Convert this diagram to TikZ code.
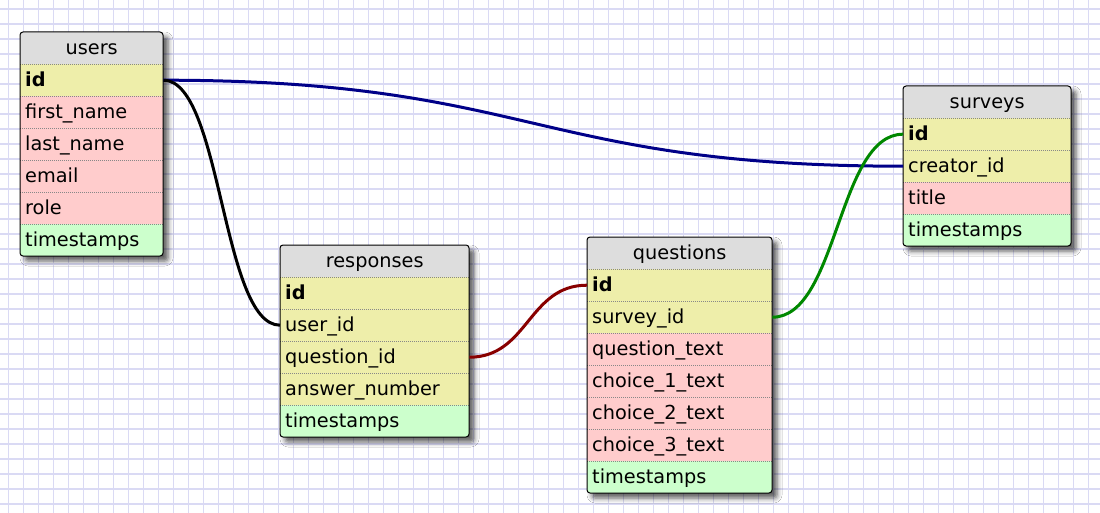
\documentclass[tikz,border=0pt]{standalone}
\usepackage{fontspec}
\setmainfont{DejaVu Sans}
\usetikzlibrary{calc,shadows.blur}
\definecolor{gridc}{RGB}{218,218,244}
\definecolor{hdrc}{HTML}{DDDDDD}
\definecolor{keyc}{HTML}{EEEEAA}
\definecolor{attc}{HTML}{FFCCCC}
\definecolor{tsc}{HTML}{CCFFCC}
\definecolor{sepc}{HTML}{888888}
\definecolor{navyc}{HTML}{000088}
\definecolor{dredc}{HTML}{880000}
\definecolor{dgreenc}{HTML}{008800}
\newcommand\erfont{\fontsize{19.3pt}{23pt}\selectfont}
\newcommand\erlink[3]{\draw[link,#1] (#2) let \p1=(#2), \p2=(#3) in
  .. controls ({0.5*\x1+0.5*\x2},\y1) and ({0.5*\x1+0.5*\x2},\y2) .. (#3);}
\tikzset{
  gridline/.style={draw=gridc, line width=1.7pt},
  cell/.style={anchor=north west, inner xsep=5pt, inner ysep=0pt,
    minimum height=32pt, text height=15.5pt, text depth=3.5pt,
    font=\erfont, align=left},
  hdr/.style={cell, fill=hdrc, align=center},
  keyrow/.style={cell, fill=keyc},
  attrow/.style={cell, fill=attc},
  tsrow/.style={cell, fill=tsc},
  sep/.style={draw=sepc, line width=0.8pt, dash pattern=on 1pt off 1pt},
  tablebg/.style={fill=white, rounded corners=3pt,
    blur shadow={shadow xshift=5pt, shadow yshift=-5pt, shadow blur radius=5pt, shadow opacity=65}},
  tableborder/.style={draw=black, line width=1pt, rounded corners=3pt},
  link/.style={line width=3pt},
  wusers/.style={text width=133pt},
  wresp/.style={text width=179pt},
  wquest/.style={text width=175pt},
  wsurv/.style={text width=158pt},
}
\begin{document}
\begin{tikzpicture}[x=1pt,y=-1pt]
\useasboundingbox (0,0) rectangle (1100,513);
\fill[white] (0,0) rectangle (1100,513);
\foreach \i in {0,...,72} \draw[gridline] ({8.5+15*\i},0) -- ({8.5+15*\i},513);
\foreach \i in {0,...,33} \draw[gridline] (0,{9+15*\i}) -- (1100,{9+15*\i});

% ---------- users ----------
\fill[tablebg] (20,32) rectangle (163,256);
\begin{scope}
\clip[rounded corners=3pt] (20,32) rectangle (163,256);
\node[hdr,wusers] (users-h) at (20,32) {users};
\node[keyrow,wusers] (users-id) at (20,64) {\bfseries id};
\node[attrow,wusers] (users-fn) at (20,96) {first\_name};
\node[attrow,wusers] (users-ln) at (20,128) {last\_name};
\node[attrow,wusers] (users-em) at (20,160) {email};
\node[attrow,wusers] (users-ro) at (20,192) {role};
\node[tsrow,wusers] (users-ts) at (20,224) {timestamps};
\foreach \k in {1,...,6} \draw[sep] (20,{32+32*\k}) -- ++(143,0);
\end{scope}
\draw[tableborder] (20,32) rectangle (163,256);

% ---------- responses ----------
\fill[tablebg] (280,245) rectangle (469,437);
\begin{scope}
\clip[rounded corners=3pt] (280,245) rectangle (469,437);
\node[hdr,wresp] (resp-h) at (280,245) {responses};
\node[keyrow,wresp] (resp-id) at (280,277) {\bfseries id};
\node[keyrow,wresp] (resp-uid) at (280,309) {user\_id};
\node[keyrow,wresp] (resp-qid) at (280,341) {question\_id};
\node[keyrow,wresp] (resp-an) at (280,373) {answer\_number};
\node[tsrow,wresp] (resp-ts) at (280,405) {timestamps};
\foreach \k in {1,...,5} \draw[sep] (280,{245+32*\k}) -- ++(189,0);
\end{scope}
\draw[tableborder] (280,245) rectangle (469,437);

% ---------- questions ----------
\fill[tablebg] (587,237) rectangle (772,493);
\begin{scope}
\clip[rounded corners=3pt] (587,237) rectangle (772,493);
\node[hdr,wquest] (q-h) at (587,237) {questions};
\node[keyrow,wquest] (q-id) at (587,269) {\bfseries id};
\node[keyrow,wquest] (q-sid) at (587,301) {survey\_id};
\node[attrow,wquest] (q-qt) at (587,333) {question\_text};
\node[attrow,wquest] (q-c1) at (587,365) {choice\_1\_text};
\node[attrow,wquest] (q-c2) at (587,397) {choice\_2\_text};
\node[attrow,wquest] (q-c3) at (587,429) {choice\_3\_text};
\node[tsrow,wquest] (q-ts) at (587,461) {timestamps};
\foreach \k in {1,...,7} \draw[sep] (587,{237+32*\k}) -- ++(185,0);
\end{scope}
\draw[tableborder] (587,237) rectangle (772,493);

% ---------- surveys ----------
\fill[tablebg] (903,86) rectangle (1071,246);
\begin{scope}
\clip[rounded corners=3pt] (903,86) rectangle (1071,246);
\node[hdr,wsurv] (s-h) at (903,86) {surveys};
\node[keyrow,wsurv] (s-id) at (903,118) {\bfseries id};
\node[keyrow,wsurv] (s-cid) at (903,150) {creator\_id};
\node[attrow,wsurv] (s-ti) at (903,182) {title};
\node[tsrow,wsurv] (s-ts) at (903,214) {timestamps};
\foreach \k in {1,...,4} \draw[sep] (903,{86+32*\k}) -- ++(168,0);
\end{scope}
\draw[tableborder] (903,86) rectangle (1071,246);

% ---------- connectors ----------
\erlink{navyc}{users-id.east}{s-cid.west}
\erlink{black}{users-id.east}{resp-uid.west}
\erlink{dredc}{resp-qid.east}{q-id.west}
\erlink{dgreenc}{q-sid.east}{s-id.west}
\end{tikzpicture}
\end{document}
